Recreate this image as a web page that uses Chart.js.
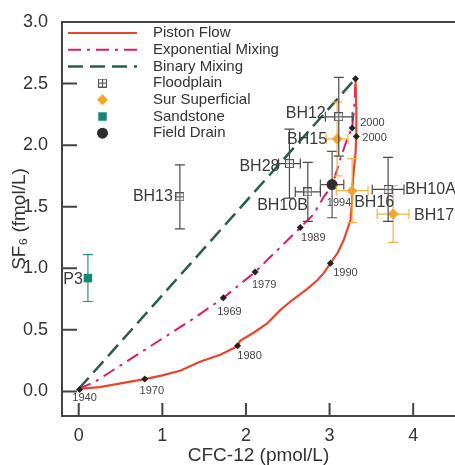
<!DOCTYPE html>
<html>
<head>
<meta charset="utf-8">
<script src="https://cdn.jsdelivr.net/npm/chart.js@4.4.1/dist/chart.umd.min.js"></script>
<style>
  html, body { margin: 0; padding: 0; background: #fff; overflow: hidden; }
  #wrap { width: 455px; height: 465px; position: relative; }
</style>
</head>
<body>
<div id="wrap"><canvas id="chart"></canvas></div>
<script>
const FONT = 'Arial, "Liberation Sans", Helvetica, sans-serif';

// axis ticks
const xTicks = [0, 1, 2, 3, 4];
const yTicks = [0, 0.5, 1.0, 1.5, 2.0, 2.5, 3.0];

// model curves (CFC-12 pmol/L, SF6 fmol/L)
const pistonX = [0, 0.25, 0.79, 1.0, 1.22, 1.45, 1.70, 1.85, 1.90, 1.93, 2.10, 2.25, 2.41, 2.55, 2.73, 2.85, 2.93, 3.01, 3.10, 3.17, 3.25, 3.27, 3.27, 3.29, 3.31, 3.32, 3.32, 3.31];
const pistonY = [0.02, 0.035, 0.10, 0.13, 0.17, 0.24, 0.30, 0.35, 0.37, 0.41, 0.48, 0.55, 0.66, 0.74, 0.83, 0.90, 0.96, 1.04, 1.13, 1.23, 1.39, 1.55, 1.63, 1.80, 1.93, 2.07, 2.30, 2.54];

const expX = [0, 0.20, 1.37, 1.73, 2.11, 2.65, 2.81, 2.93, 3.03, 3.13, 3.21, 3.27, 3.30, 3.31];
const expY = [0.02, 0.08, 0.59, 0.76, 0.97, 1.33, 1.44, 1.58, 1.67, 1.89, 2.05, 2.14, 2.35, 2.54];

const binaryX = [0, 3.31];
const binaryY = [0.02, 2.54];

// year markers
const pistonYearX = [0.01, 0.79, 1.90, 3.01, 3.32];
const pistonYearY = [0.016, 0.10, 0.37, 1.04, 2.07];
const pistonYears = ['1940', '1970', '1980', '1990', '2000'];

const expYearX = [1.73, 2.11, 2.65, 3.03, 3.27, 3.31];
const expYearY = [0.76, 0.97, 1.33, 1.67, 2.14, 2.54];
const expYears = ['1969', '1979', '1989', '1994', '2000', ''];

// samples
const floodNames = ['BH13', 'BH12', 'BH28', 'BH10B', 'BH10A'];
const floodX = [1.21, 3.11, 2.52, 2.74, 3.70];
const floodY = [1.58, 2.23, 1.85, 1.62, 1.64];
const floodXErr = [0, 0.16, 0.13, 0.15, 0.19];
const floodYErr = [0.26, 0.32, 0.28, 0.24, 0.26];

const surNames = ['BH15', 'BH16', 'BH17'];
const surX = [3.09, 3.27, 3.76];
const surY = [2.05, 1.63, 1.44];
const surXErr = [0.13, 0.19, 0.19];
const surYErr = [0.30, 0.26, 0.23];

const sandNames = ['P3'];
const sandX = [0.11];
const sandY = [0.92];
const sandXErr = [0];
const sandYErr = [0.19];

const drainNames = [''];
const drainX = [3.03];
const drainY = [1.68];
const drainXErr = [0.14];
const drainYErr = [0.27];

// label placement (pixel offsets from the point)
const nameOffsets = {
    BH13: [-7, 0, 'right'], BH12: [-13, -3, 'right'], BH28: [-10, 3, 'right'],
    BH10B: [0, 14, 'right'], BH10A: [17, 0, 'left'], BH15: [-10, 1, 'right'],
    BH16: [2, 12, 'left'], BH17: [21, 2, 'left'], P3: [-5, 1, 'right']
};
const yearOffsets = {
    piston: [[5, 9], [7, 12], [12, 10], [15, 10], [6, 1, 'left']],
    exp: [[6, 14], [9, 13], [13, 10], [7, 17], [8, -5, 'left'], [0, 0]]
};

const xy = (xs, ys) => xs.map((x, i) => ({x: x, y: ys[i]}));

function floodIcon(size) {
    const c = document.createElement('canvas');
    c.width = size; c.height = size;
    const g = c.getContext('2d');
    g.fillStyle = '#eeeeee';
    g.fillRect(0, 0, size, size);
    g.strokeStyle = '#555';
    g.lineWidth = 1;
    g.strokeRect(0.5, 0.5, size - 1, size - 1);
    g.beginPath();
    g.moveTo(size / 2, 0); g.lineTo(size / 2, size);
    g.moveTo(0, size / 2); g.lineTo(size, size / 2);
    g.stroke();
    return c;
}
const floodStyle = floodIcon(9);

// error bars drawn just before the markers of each dataset
const errorBars = {
    id: 'errorBars',
    beforeDatasetDraw(chart, args) {
        const ds = chart.data.datasets[args.index];
        if (!ds.errX) return;
        const sx = chart.scales.x, sy = chart.scales.y, ctx = chart.ctx;
        const cap = 5;
        ctx.save();
        ctx.strokeStyle = ds.errColor;
        ctx.lineWidth = 1.2;
        ds.data.forEach((p, i) => {
            const px = sx.getPixelForValue(p.x), py = sy.getPixelForValue(p.y);
            ctx.beginPath();
            if (ds.errY[i]) {
                const t = sy.getPixelForValue(p.y + ds.errY[i]);
                const b = sy.getPixelForValue(p.y - ds.errY[i]);
                ctx.moveTo(px, t); ctx.lineTo(px, b);
                ctx.moveTo(px - cap, t); ctx.lineTo(px + cap, t);
                ctx.moveTo(px - cap, b); ctx.lineTo(px + cap, b);
            }
            if (ds.errX[i]) {
                const l = sx.getPixelForValue(p.x - ds.errX[i]);
                const r = sx.getPixelForValue(p.x + ds.errX[i]);
                ctx.moveTo(l, py); ctx.lineTo(r, py);
                ctx.moveTo(l, py - cap); ctx.lineTo(l, py + cap);
                ctx.moveTo(r, py - cap); ctx.lineTo(r, py + cap);
            }
            ctx.stroke();
        });
        ctx.restore();
    }
};

// text next to points and years
const pointLabels = {
    id: 'pointLabels',
    afterDatasetsDraw(chart) {
        const ctx = chart.ctx;
        ctx.save();
        ctx.textBaseline = 'middle';
        chart.data.datasets.forEach((ds, di) => {
            const meta = chart.getDatasetMeta(di);
            if (ds.names) {
                ctx.font = '16px ' + FONT;
                ctx.fillStyle = '#3a3a3a';
                ds.names.forEach((n, i) => {
                    if (!n) return;
                    const o = nameOffsets[n], el = meta.data[i];
                    ctx.textAlign = o[2];
                    ctx.fillText(n, el.x + o[0], el.y + o[1]);
                });
            }
            if (ds.years) {
                ctx.font = '11px ' + FONT;
                ctx.fillStyle = '#444';
                ds.years.forEach((yr, i) => {
                    if (!yr) return;
                    const o = yearOffsets[ds.yearKey][i], el = meta.data[i];
                    ctx.textAlign = o[2] || 'center';
                    ctx.fillText(yr, el.x + o[0], el.y + o[1]);
                });
            }
        });
        ctx.restore();
    }
};

// inward ticks + top frame line
const frame = {
    id: 'frame',
    afterDraw(chart) {
        const {ctx, chartArea: a} = chart;
        ctx.save();
        ctx.strokeStyle = '#444';
        ctx.lineWidth = 2;
        ctx.beginPath();
        chart.scales.x.ticks.forEach(t => {
            const px = chart.scales.x.getPixelForValue(t.value);
            ctx.moveTo(px, a.bottom); ctx.lineTo(px, a.bottom - 13);
        });
        chart.scales.y.ticks.forEach(t => {
            if (t.value >= 3) return;
            const py = chart.scales.y.getPixelForValue(t.value);
            ctx.moveTo(a.left, py); ctx.lineTo(a.left + 15, py);
        });
        ctx.moveTo(a.left, a.top); ctx.lineTo(a.right, a.top);
        ctx.stroke();
        ctx.restore();
    }
};

// legend in the top-left corner of the plot
const insetLegend = {
    id: 'insetLegend',
    afterDraw(chart) {
        const {ctx, chartArea: a} = chart;
        const x0 = a.left + 6, x1 = a.left + 75, tx = a.left + 91;
        let y = a.top + 11;
        ctx.save();
        ctx.font = '15px ' + FONT;
        ctx.textBaseline = 'middle';
        ctx.textAlign = 'left';
        chart.data.datasets.filter(d => d.legend).forEach(ds => {
            if (ds.showLine) {
                ctx.strokeStyle = ds.borderColor;
                ctx.lineWidth = ds.borderWidth;
                ctx.setLineDash(ds.borderDash || []);
                ctx.beginPath(); ctx.moveTo(x0, y); ctx.lineTo(x1, y); ctx.stroke();
                ctx.setLineDash([]);
            } else {
                ctx.fillStyle = ds.backgroundColor;
                ctx.strokeStyle = ds.borderColor;
                Chart.helpers.drawPoint(ctx, {pointStyle: ds.pointStyle, radius: ds.pointRadius, borderWidth: 0, rotation: 0}, (x0 + x1) / 2, y);
            }
            ctx.fillStyle = '#333';
            ctx.fillText(ds.label, tx, y);
            y += 16.7;
        });
        ctx.restore();
    }
};

const chart = new Chart(document.getElementById('chart'), {
    type: 'scatter',
    data: {
        datasets: [{
            label: 'Piston Flow',
            data: xy(pistonX, pistonY),
            showLine: true, legend: true,
            borderColor: '#e8452c', backgroundColor: '#e8452c',
            borderWidth: 2.2, pointRadius: 0, order: 3
        }, {
            label: 'Exponential Mixing',
            data: xy(expX, expY),
            showLine: true, legend: true,
            borderColor: '#dc1a6c', backgroundColor: '#dc1a6c',
            borderWidth: 2, borderDash: [13, 6, 3, 6], pointRadius: 0, order: 4
        }, {
            label: 'Binary Mixing',
            data: xy(binaryX, binaryY),
            showLine: true, legend: true,
            borderColor: '#2b5d4b', backgroundColor: '#2b5d4b',
            borderWidth: 2.5, borderDash: [15, 7], pointRadius: 0, order: 5
        }, {
            label: 'Floodplain',
            data: xy(floodX, floodY),
            names: floodNames, errX: floodXErr, errY: floodYErr, errColor: '#4a4a4a',
            legend: true, pointStyle: floodStyle, pointRadius: 4.5,
            backgroundColor: '#eee', borderColor: '#555', order: 0
        }, {
            label: 'Sur Superficial',
            data: xy(surX, surY),
            names: surNames, errX: surXErr, errY: surYErr, errColor: '#f2b347',
            legend: true, pointStyle: 'rectRot', pointRadius: 5.5, borderWidth: 0,
            backgroundColor: '#f5a52e', borderColor: '#f5a52e', order: 0
        }, {
            label: 'Sandstone',
            data: xy(sandX, sandY),
            names: sandNames, errX: sandXErr, errY: sandYErr, errColor: '#2a9080',
            legend: true, pointStyle: 'rect', pointRadius: 6, borderWidth: 0,
            backgroundColor: '#178676', borderColor: '#178676', order: 0
        }, {
            label: 'Field Drain',
            data: xy(drainX, drainY),
            names: drainNames, errX: drainXErr, errY: drainYErr, errColor: '#555',
            legend: true, pointStyle: 'circle', pointRadius: 5.5, borderWidth: 0,
            backgroundColor: '#2e2e2e', borderColor: '#2e2e2e', order: 0
        }, {
            label: 'piston years',
            data: xy(pistonYearX, pistonYearY),
            years: pistonYears, yearKey: 'piston',
            pointStyle: 'rectRot', pointRadius: 3.5, borderWidth: 0,
            backgroundColor: '#222', order: 1
        }, {
            label: 'exp years',
            data: xy(expYearX, expYearY),
            years: expYears, yearKey: 'exp',
            pointStyle: 'rectRot', pointRadius: 3.5, borderWidth: 0,
            backgroundColor: '#222', order: 2
        }]
    },
    options: {
        responsive: true,
        maintainAspectRatio: false,
        animation: false,
        layout: { padding: { top: 22, right: 0, left: 0, bottom: 0 } },
        plugins: { legend: { display: false }, tooltip: { enabled: false } },
        scales: {
            x: {
                type: 'linear', min: -0.2, max: 4.5,
                afterFit: s => { s.height = 49; },
                afterBuildTicks: s => { s.ticks = xTicks.map(v => ({value: v})); },
                ticks: { color: '#333', font: { size: 18, family: FONT }, padding: 1 },
                grid: { display: false },
                border: { display: true, color: '#444', width: 2 },
                title: { display: true, text: 'CFC-12 (pmol/L)', color: '#333',
                         font: { size: 19, family: FONT }, padding: { top: 0, bottom: -2 } }
            },
            y: {
                type: 'linear', min: -0.2, max: 3.0,
                afterFit: s => { s.width = 62; },
                afterBuildTicks: s => { s.ticks = yTicks.map(v => ({value: v})); },
                ticks: { color: '#333', font: { size: 18, family: FONT }, padding: 6,
                         callback: v => v.toFixed(1) },
                grid: { display: false },
                border: { display: true, color: '#444', width: 2 },
                title: { display: true, text: 'SF\u2086 (fmol/L)', color: '#333',
                         font: { size: 19, family: FONT }, padding: { top: 8, bottom: 0 } }
            }
        }
    },
    plugins: [errorBars, pointLabels, frame, insetLegend]
});

// the plot runs off the right edge of the window; widen the canvas so the
// chart area ends exactly at the window edge (layout keeps a small right margin)
const wrap = document.getElementById('wrap');
for (let k = 0; k < 2; k++) {
    const gap = 455 - chart.chartArea.right;
    if (Math.abs(gap) < 0.5) break;
    const w = wrap.clientWidth + gap;
    wrap.style.width = w + 'px';
    chart.resize(w, 465);
}
</script>
</body>
</html>
